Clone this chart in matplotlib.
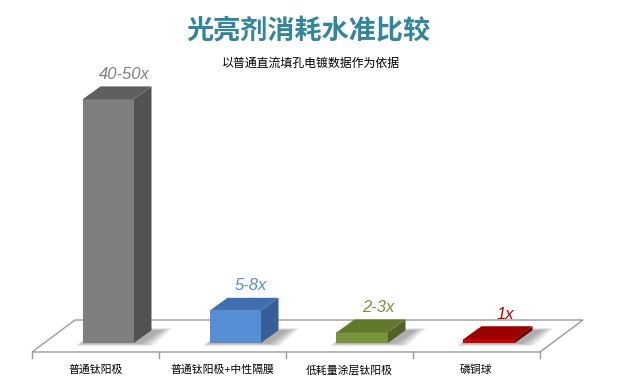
import matplotlib
matplotlib.use("Agg")
import matplotlib.pyplot as plt
from matplotlib.patches import Polygon

plt.rcParams['font.family'] = ['Noto Sans CJK SC', 'DejaVu Sans']

# ---- data ----
categories = ["普通钛阳极", "普通钛阳极+中性隔膜", "低耗量涂层钛阳极", "磷铜球"]
values = [45, 6, 2, 0.75]
value_labels = ["40-50x", "5-8x", "2-3x", "1x"]
title = "光亮剂消耗水准比较"
subtitle = "以普通直流填孔电镀数据作为依据"

front_colors = ["#7f7f7f", "#558ed5", "#77933c", "#cc0000"]
top_colors = ["#5f5f5f", "#3f6fb0", "#5f7a2c", "#990000"]
side_colors = ["#525252", "#355f96", "#4f6326", "#7a0000"]
label_colors = ["#7f7f7f", "#558ed5", "#77933c", "#c00000"]

# ---- geometry (pixel scale helpers) ----
W, H = 617, 385
PX_X = 127.0      # pixels per category
PX_Y = 5.42       # pixels per value unit
base_px = 343.3   # pixel row of value 0
left_px = 32.0

fig = plt.figure(figsize=(W / 100, H / 100), dpi=100)
ax = fig.add_axes([0, 0, 1, 1])
ax.set_xlim(-left_px / PX_X, (W - left_px) / PX_X)
ax.set_ylim((base_px - H) / PX_Y, base_px / PX_Y)
ax.axis("off")

def ux(px):
    return px / PX_X

def vy(px):
    return px / PX_Y

n = len(categories)
# floor
fy = -vy(8.7)
fdx, fdy = ux(43), vy(32)
floor = Polygon([(0, fy), (n, fy), (n + fdx, fy + fdy), (fdx, fy + fdy)],
                closed=True, facecolor="white", edgecolor="#9a9a9a", lw=1.0, zorder=1)
ax.add_patch(floor)
for i in range(n + 1):
    ax.plot([i, i], [fy, fy - vy(6)], color="#9a9a9a", lw=1.0, zorder=1)

hw = ux(25.5)
ddx, ddy = ux(18), vy(13)
for i, (v, lab) in enumerate(zip(values, value_labels)):
    c = i + 0.5 + ux(12.5)
    # soft shadow
    for k in range(10):
        e = k * 1.3
        sh = Polygon([(c - hw - ux(e * 0.6), -vy(e * 0.25)),
                      (c + hw + ux(8 + e), -vy(e * 0.25)),
                      (c + hw + ddx + ux(10 + e), ddy + vy(e * 0.2)),
                      (c - hw + ddx - ux(e * 0.4), ddy + vy(e * 0.2))],
                     closed=True, facecolor="black", edgecolor="none", alpha=0.035, zorder=2)
        ax.add_patch(sh)
    front = Polygon([(c - hw, 0), (c + hw, 0), (c + hw, v), (c - hw, v)],
                    closed=True, facecolor=front_colors[i], edgecolor="none", zorder=4)
    top = Polygon([(c - hw, v), (c + hw, v), (c + hw + ddx, v + ddy), (c - hw + ddx, v + ddy)],
                  closed=True, facecolor=top_colors[i], edgecolor="none", zorder=4)
    side = Polygon([(c + hw, 0), (c + hw + ddx, ddy), (c + hw + ddx, v + ddy), (c + hw, v)],
                   closed=True, facecolor=side_colors[i], edgecolor="none", zorder=3)
    ax.add_patch(side)
    ax.add_patch(front)
    ax.add_patch(top)
    ax.text(c + ux(16), v + ddy + vy(12), lab, ha="center", va="center",
            fontsize=12, style="italic", color=label_colors[i],
            family=["Liberation Sans", "DejaVu Sans"], zorder=5)

for i, cat in enumerate(categories):
    ax.text(i + 0.5, -vy(370 - base_px), cat, ha="center", va="center",
            fontsize=7.8, color="#000000")

fig.text(308 / W, 1 - 31 / H, title, ha="center", va="center", fontsize=19.5,
         fontweight="bold", color="#31859c")
fig.text(311 / W, 1 - 63 / H, subtitle, ha="center", va="center", fontsize=8.6,
         color="#000000")

fig.savefig("out.png", dpi=100)
